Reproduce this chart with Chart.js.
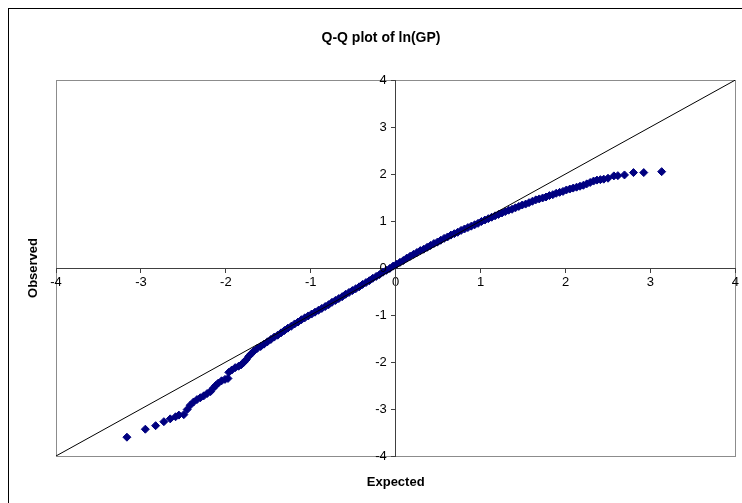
<!DOCTYPE html>
<html>
<head>
<meta charset="utf-8">
<title>Q-Q plot of ln(GP)</title>
<script src="https://cdn.jsdelivr.net/npm/chart.js@4.4.0/dist/chart.umd.min.js"></script>
<style>
    html, body { margin: 0; padding: 0; background: #fff; }
    #wrap { width: 742px; height: 503px; }
</style>
</head>
<body>
<div id="wrap"><canvas id="qqChart" width="742" height="503"></canvas></div>
<script>
// Expected normal quantiles (x) and observed ln(GP) values (y)
var expected = [
    -3.165, -2.948, -2.827, -2.730, -2.655, -2.592, -2.553, -2.495, -2.455, -2.42,
    -2.38, -2.34, -2.30, -2.26, -2.22, -2.18, -2.15, -2.12, -2.09, -2.05,
    -2.01, -1.975, -1.965, -1.93, -1.89, -1.85, -1.82, -1.79, -1.76, -1.73,
    -1.70, -1.67, -1.63, -1.59, -1.55, -1.51, -1.47, -1.43, -1.39, -1.35,
    -1.31, -1.27, -1.23, -1.19, -1.15, -1.11, -1.07, -1.03, -0.99, -0.95,
    -0.91, -0.87, -0.83, -0.79, -0.75, -0.71, -0.67, -0.63, -0.59, -0.55,
    -0.51, -0.47, -0.43, -0.39, -0.35, -0.31, -0.27, -0.23, -0.19, -0.15,
    -0.11, -0.07, -0.03, 0.01, 0.05, 0.09, 0.13, 0.17, 0.21, 0.25,
    0.29, 0.33, 0.37, 0.41, 0.45, 0.49, 0.53, 0.57, 0.61, 0.65,
    0.69, 0.73, 0.77, 0.81, 0.85, 0.89, 0.93, 0.97, 1.01, 1.05,
    1.09, 1.13, 1.17, 1.21, 1.25, 1.29, 1.33, 1.37, 1.41, 1.45,
    1.49, 1.53, 1.57, 1.61, 1.65, 1.69, 1.73, 1.77, 1.81, 1.85,
    1.89, 1.93, 1.97, 2.01, 2.05, 2.09, 2.13, 2.17, 2.21, 2.25,
    2.29, 2.33, 2.37, 2.41, 2.45, 2.50, 2.569, 2.616, 2.694, 2.80,
    2.921, 3.132
];
var observed = [
    -3.60, -3.43, -3.355, -3.27, -3.21, -3.165, -3.13, -3.12, -3.01, -2.92,
    -2.85, -2.80, -2.76, -2.72, -2.67, -2.63, -2.56, -2.50, -2.45, -2.40,
    -2.37, -2.35, -2.22, -2.17, -2.12, -2.09, -2.06, -2.01, -1.95, -1.88,
    -1.82, -1.77, -1.71, -1.67, -1.62, -1.57, -1.52, -1.47, -1.43, -1.38,
    -1.33, -1.28, -1.24, -1.19, -1.15, -1.10, -1.06, -1.02, -0.98, -0.94,
    -0.90, -0.86, -0.82, -0.78, -0.73, -0.69, -0.65, -0.61, -0.56, -0.52,
    -0.48, -0.44, -0.40, -0.35, -0.31, -0.27, -0.22, -0.18, -0.14, -0.09,
    -0.05, -0.01, 0.04, 0.08, 0.12, 0.16, 0.21, 0.25, 0.29, 0.33,
    0.37, 0.40, 0.44, 0.48, 0.52, 0.55, 0.59, 0.63, 0.66, 0.70,
    0.73, 0.76, 0.80, 0.83, 0.86, 0.89, 0.92, 0.95, 0.99, 1.02,
    1.05, 1.08, 1.11, 1.14, 1.17, 1.20, 1.23, 1.25, 1.28, 1.31,
    1.34, 1.36, 1.39, 1.42, 1.45, 1.47, 1.49, 1.51, 1.54, 1.56,
    1.59, 1.61, 1.63, 1.66, 1.68, 1.70, 1.72, 1.74, 1.76, 1.79,
    1.82, 1.85, 1.87, 1.88, 1.89, 1.91, 1.96, 1.965, 1.98, 2.03,
    2.03, 2.05
];
// 45 degree reference line end points
var refLine = [-4, 4];
var axisMin = -4;
var axisMax = 4;

var chartTitle = "Q-Q plot of ln(GP)";
var xTitle = "Expected";
var yTitle = "Observed";

var points = [];
for (let i = 0; i < expected.length; i++) {
    points.push({ x: expected[i], y: observed[i] });
}
var linePoints = [];
for (let i = 0; i < refLine.length; i++) {
    linePoints.push({ x: refLine[i], y: refLine[i] });
}

var FONT = "Arial, 'Liberation Sans', sans-serif";
var TICK_FONT = "13px " + FONT;

// white background, outer frame and grey plot area border
var framePlugin = {
    id: "frame",
    beforeDraw: function (chart) {
        var ctx = chart.ctx;
        var a = chart.chartArea;
        ctx.save();
        ctx.fillStyle = "#fff";
        ctx.fillRect(0, 0, chart.width, chart.height);
        ctx.strokeStyle = "#000";
        ctx.lineWidth = 1;
        ctx.strokeRect(8.5, 8.5, chart.width + 20, chart.height + 20);
        ctx.strokeStyle = "#8c8c8c";
        ctx.strokeRect(Math.round(a.left) + 0.5, Math.round(a.top) + 0.5,
            Math.round(a.right - a.left), Math.round(a.bottom - a.top));
        ctx.restore();
    },
    afterDraw: function (chart) {
        var ctx = chart.ctx;
        var a = chart.chartArea;
        var xs = chart.scales.x;
        var ys = chart.scales.y;
        ctx.save();
        ctx.fillStyle = "#000";

        // y tick labels sit left of the crossing axis (chart.js puts them on the line)
        var axisX = xs.getPixelForValue(0);
        ctx.font = TICK_FONT;
        ctx.textAlign = "right";
        ctx.textBaseline = "middle";
        ys.ticks.forEach(function (t) {
            ctx.fillText(String(t.value), axisX - 9, ys.getPixelForValue(t.value));
        });

        ctx.textAlign = "center";
        ctx.font = "bold 14px " + FONT;
        ctx.fillText(chartTitle, 381, 38);
        ctx.font = "bold 13px " + FONT;
        ctx.fillText(xTitle, (a.left + a.right) / 2, 482);
        ctx.translate(33, (a.top + a.bottom) / 2);
        ctx.rotate(-Math.PI / 2);
        ctx.fillText(yTitle, 0, 0);
        ctx.restore();
    }
};

var ctx = document.getElementById("qqChart").getContext("2d");
var qqChart = new Chart(ctx, {
    type: "scatter",
    data: {
        datasets: [{
            type: "line",
            data: linePoints,
            borderColor: "#000",
            borderWidth: 1,
            pointRadius: 0,
            fill: false,
            order: 0
        }, {
            data: points,
            pointStyle: "rectRot",
            pointRadius: 4,
            backgroundColor: "#000080",
            borderColor: "#000080",
            borderWidth: 1,
            order: 1
        }]
    },
    options: {
        responsive: false,
        animation: false,
        devicePixelRatio: 1,
        layout: { padding: { left: 56, right: 4, top: 80, bottom: 47 } },
        plugins: {
            legend: { display: false },
            tooltip: { enabled: false },
            title: { display: false }
        },
        scales: {
            x: {
                type: "linear",
                min: axisMin,
                max: axisMax,
                position: { y: 0 },
                grid: { drawOnChartArea: false, drawTicks: true, tickLength: 4, color: "#404040" },
                border: { display: true, color: "#404040", width: 1 },
                ticks: {
                    stepSize: 1,
                    autoSkip: false,
                    maxRotation: 0,
                    padding: 3,
                    color: "#000",
                    font: { family: FONT, size: 13 }
                }
            },
            y: {
                type: "linear",
                min: axisMin,
                max: axisMax,
                position: { x: 0 },
                grid: { drawOnChartArea: false, drawTicks: true, tickLength: 4, color: "#404040" },
                border: { display: true, color: "#404040", width: 1 },
                ticks: {
                    stepSize: 1,
                    autoSkip: false,
                    display: false
                }
            }
        }
    },
    plugins: [framePlugin]
});
</script>
</body>
</html>
